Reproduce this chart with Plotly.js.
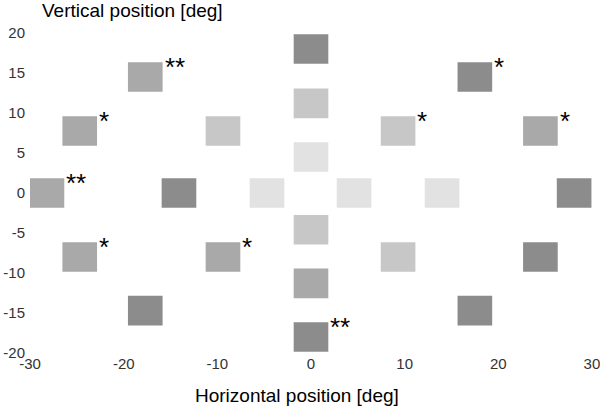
<!DOCTYPE html>
<html>
<head>
<meta charset="utf-8">
<script src="https://cdn.plot.ly/plotly-3.0.1.min.js"></script>
<style>
	body { margin: 0; padding: 0; background: #fff; }
	#chart { width: 600px; height: 406px; }
</style>
</head>
<body>
<div id="chart"></div>
<script>
// stimulus positions in degrees
var xPos = [0, 0, 0, 0, 0, 0, -4.7, -14.1, -28.2, 4.6, 14.0, 28.1, -17.7, -24.7, -9.4, 9.3, 17.5, 24.5, -24.7, -9.4, -17.7, 9.3, 24.5, 17.5];
var yPos = [18, 11.2, 4.5, -4.6, -11.3, -18, 0, 0, 0, 0, 0, 0, 14.5, 7.75, 7.75, 7.75, 14.5, 7.75, -8, -8, -14.7, -8, -8, -14.7];
// grey level of each square (0 = darkest, 3 = lightest)
var shade = [0, 2, 3, 2, 1, 0, 3, 0, 1, 3, 3, 0, 1, 1, 2, 2, 0, 1, 1, 1, 0, 2, 0, 0];
var stars = ["", "", "", "", "", "**", "", "", "**", "", "", "", "**", "*", "", "*", "*", "*", "*", "*", "", "", "", ""];

var xTicks = [-30, -20, -10, 0, 10, 20, 30];
var yTicks = [-20, -15, -10, -5, 0, 5, 10, 15, 20];

var greys = ["#8c8c8c", "#a9a9a9", "#c7c7c7", "#e2e2e2"];
var side = 3.7;
var half = side / 2;

var shapes = [];
var annotations = [];

for (var i = 0; i < xPos.length; i++) {
	shapes.push({
		type: "rect",
		xref: "x",
		yref: "y",
		x0: xPos[i] - half,
		x1: xPos[i] + half,
		y0: yPos[i] - half,
		y1: yPos[i] + half,
		fillcolor: greys[shade[i]],
		line: { width: 0 },
		layer: "above"
	});
	if (stars[i] !== "") {
		annotations.push({
			xref: "x",
			yref: "y",
			x: xPos[i] + half,
			y: yPos[i] + half,
			text: stars[i],
			showarrow: false,
			xanchor: "left",
			yanchor: "middle",
			xshift: 0,
			yshift: -5,
			font: { family: "Liberation Sans, Arial, sans-serif", size: 26, color: "#000" }
		});
	}
}

annotations.push({
	xref: "paper",
	yref: "paper",
	x: 0.475,
	y: -0.132,
	text: "Horizontal position [deg]",
	showarrow: false,
	xanchor: "center",
	yanchor: "middle",
	font: { family: "Liberation Sans, Arial, sans-serif", size: 19, color: "#000" }
});

// an invisible trace so the axes get drawn
var data = [{
	type: "scatter",
	mode: "markers",
	x: xPos,
	y: yPos,
	marker: { size: 1, opacity: 0 },
	hoverinfo: "skip",
	showlegend: false
}];

var layout = {
	width: 600,
	height: 406,
	paper_bgcolor: "#fff",
	plot_bgcolor: "#fff",
	font: { family: "Liberation Sans, Arial, sans-serif", color: "#333" },
	title: {
		text: "Vertical position [deg]",
		xref: "container",
		yref: "container",
		x: 0.07,
		xanchor: "left",
		y: 0.974,
		yanchor: "middle",
		font: { family: "Liberation Sans, Arial, sans-serif", size: 19, color: "#000" }
	},
	margin: { l: 30, r: 8, t: 33, b: 53 },
	showlegend: false,
	xaxis: {
		range: [-30.01, 30.01],
		tickvals: xTicks,
		ticktext: xTicks.map(String),
		showgrid: false,
		zeroline: false,
		showline: false,
		ticks: "",
		ticklabelstandoff: 0,
		ticklabeloverflow: "allow",
		tickfont: { size: 15, color: "#333" },
		fixedrange: true
	},
	yaxis: {
		range: [-20, 20],
		tickvals: yTicks,
		ticktext: yTicks.map(String),
		showgrid: false,
		zeroline: false,
		showline: false,
		ticks: "",
		ticklabelstandoff: 4,
		ticklabeloverflow: "allow",
		tickfont: { size: 15, color: "#333" },
		fixedrange: true
	},
	shapes: shapes,
	annotations: annotations
};

Plotly.newPlot("chart", data, layout, { displayModeBar: false, staticPlot: true });
</script>
</body>
</html>
